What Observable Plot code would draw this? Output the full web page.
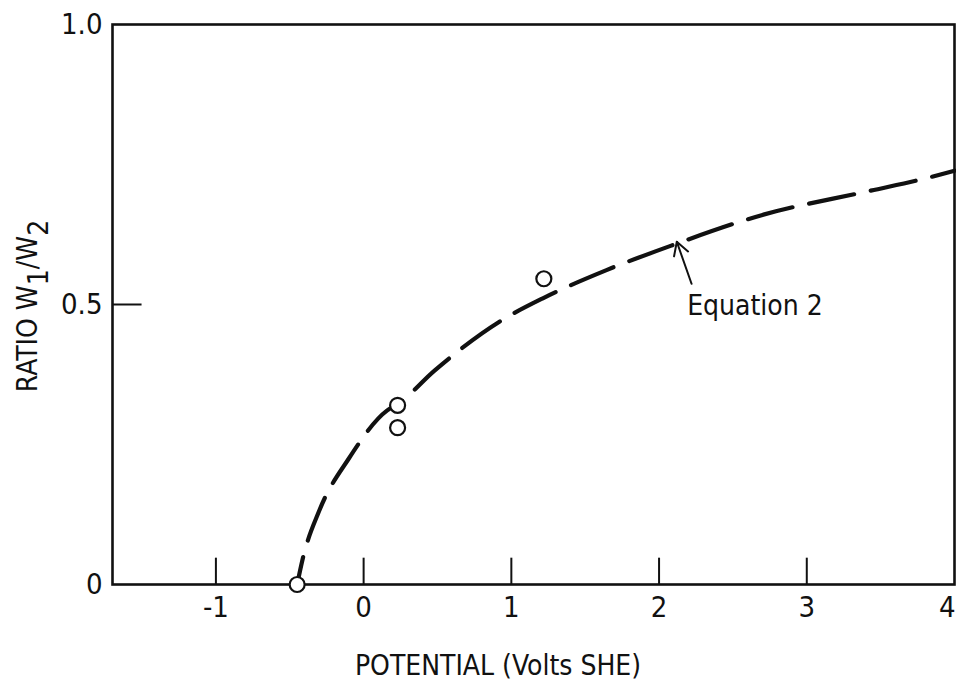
<!DOCTYPE html>
<html>
<head>
<meta charset="utf-8">
<script src="https://cdn.jsdelivr.net/npm/d3@7"></script>
<script src="https://cdn.jsdelivr.net/npm/@observablehq/plot@0.6"></script>
<style>
  html, body { margin: 0; padding: 0; background: #fff; }
  #chart svg { display: block; }
  .lbl { font-family: "Liberation Sans Narrow", "DejaVu Sans Condensed", "DejaVu Sans", sans-serif; font-stretch: condensed; }
</style>
</head>
<body>
<div id="chart"></div>
<script>
// Tick values and labels
const xTicks = [-1, 0, 1, 2, 3, 4];
const xTickLabels = ["-1", "0", "1", "2", "3", "4"];
const yTicks = [0, 0.5, 1.0];
const yTickLabels = ["0", "0.5", "1.0"];

// Measured points (open circles)
const pointX = [-0.45, 0.23, 0.23, 1.22];
const pointY = [0.0, 0.32, 0.28, 0.546];

// Equation 2 curve (dashed)
const curveX = [-0.45, -0.415, -0.30, -0.10, 0.16, 0.23, 0.48, 0.93, 1.22, 1.64, 2.05, 2.70, 3.41, 3.83, 4.0];
const curveY = [0.0, 0.043, 0.132, 0.225, 0.311, 0.322, 0.382, 0.471, 0.512, 0.561, 0.602, 0.660, 0.702, 0.727, 0.739];

// Annotation
const annoText = ["Equation 2"];
const annoTextX = [2.19];
const annoTextY = [0.498];
const arrowFrom = [2.22, 0.537];
const arrowTo = [2.12, 0.612];

const xLabel = "POTENTIAL (Volts SHE)";
const yLabelParts = ["RATIO W", "1", "/W", "2"];

const points = pointX.map((x, i) => ({x, y: pointY[i]}));
const curve = curveX.map((x, i) => ({x, y: curveY[i]}));
const fontFam = '"Liberation Sans Narrow", "DejaVu Sans Condensed", "DejaVu Sans", sans-serif';

const plot = Plot.plot({
  width: 956,
  height: 690,
  marginLeft: 112,
  marginRight: 2,
  marginTop: 24,
  marginBottom: 106,
  style: {fontFamily: fontFam, fontSize: "29px", color: "#111", background: "#fff"},
  x: {domain: [-1.7, 4.0]},
  y: {domain: [0, 1.0]},
  marks: [
    Plot.frame({stroke: "#111", strokeWidth: 2.6}),
    Plot.axisX({ticks: xTicks.slice(0, 5), tickSize: 0, tickPadding: 12, tickFormat: (d) => xTickLabels[xTicks.indexOf(d)], label: null, fontSize: 29}),
    Plot.axisX({ticks: xTicks.slice(5), tickSize: 0, tickPadding: 12, tickFormat: (d) => xTickLabels[xTicks.indexOf(d)], label: null, fontSize: 29, textAnchor: "end", dx: 1}),
    Plot.axisY({ticks: yTicks, tickSize: 0, tickPadding: 10, tickFormat: (d) => yTickLabels[yTicks.indexOf(d)], label: null, fontSize: 29}),
    // inward tick marks
    Plot.ruleX(xTicks.slice(0, 5), {y1: 0, y2: 0.047, stroke: "#111", strokeWidth: 2}),
    Plot.ruleY([0.5], {x1: -1.7, x2: -1.5, stroke: "#111", strokeWidth: 2}),
    Plot.line(curve, {x: "x", y: "y", curve: "monotone-x", stroke: "#111", strokeWidth: 4.2, strokeDasharray: "46,17", strokeDashoffset: 18}),
    Plot.dot(points, {x: "x", y: "y", r: 7.5, stroke: "#111", strokeWidth: 2.2, fill: "#fff"}),
    Plot.arrow([{x1: arrowFrom[0], y1: arrowFrom[1], x2: arrowTo[0], y2: arrowTo[1]}], {x1: "x1", y1: "y1", x2: "x2", y2: "y2", stroke: "#111", strokeWidth: 2, headLength: 12, bend: 0}),
    Plot.text(annoText, {x: annoTextX, y: annoTextY, text: (d) => d, textAnchor: "start", fontSize: 28, fill: "#111"})
  ]
});

document.getElementById("chart").appendChild(plot);

const svg = d3.select(plot);
// x axis title
svg.append("text")
  .attr("class", "lbl")
  .attr("x", 498).attr("y", 675)
  .attr("text-anchor", "middle")
  .attr("font-size", 28)
  .attr("fill", "#111")
  .text(xLabel);

// y axis title with subscripts
const yl = svg.append("text")
  .attr("class", "lbl")
  .attr("transform", "translate(37,306) rotate(-90)")
  .attr("text-anchor", "middle")
  .attr("font-size", 28)
  .attr("fill", "#111");
yl.append("tspan").text(yLabelParts[0]);
yl.append("tspan").attr("dy", 11).text(yLabelParts[1]);
yl.append("tspan").attr("dy", -11).text(yLabelParts[2]);
yl.append("tspan").attr("dy", 11).text(yLabelParts[3]);
</script>
</body>
</html>
